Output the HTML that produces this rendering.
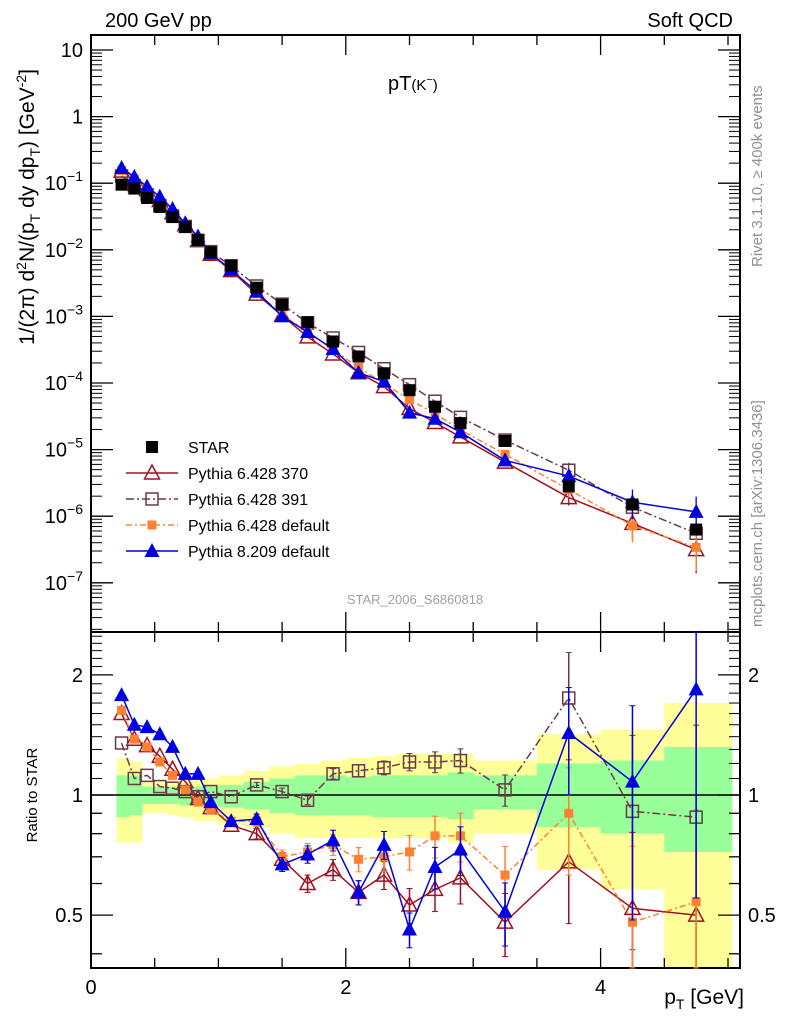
<!DOCTYPE html>
<html><head><meta charset="utf-8"><style>
body{margin:0;background:#fff;}
svg text{font-family:"Liberation Sans",sans-serif;}
</style></head><body>
<svg id="c" width="786" height="1024" xmlns="http://www.w3.org/2000/svg"></svg>
<script>
const pt=[0.24,0.34,0.44,0.54,0.64,0.74,0.84,0.94,1.1,1.3,1.5,1.7,1.9,2.1,2.3,2.5,2.7,2.9,3.25,3.75,4.25,4.75];
const binEdges=[0.2,0.3,0.4,0.5,0.6,0.7,0.8,0.9,1.0,1.2,1.4,1.6,1.8,2.0,2.2,2.4,2.6,2.8,3.0,3.5,4.0,4.5,5.03];
const star=[0.095,0.083,0.06,0.044,0.031,0.022,0.014,0.0092,0.0058,0.0027,0.0015,0.00082,0.00042,0.00025,0.00014,7.8e-5,4.4e-5,2.5e-5,1.35e-5,2.8e-6,1.5e-6,6.3e-7];
const r370=[1.60,1.38,1.33,1.25,1.16,1.08,0.98,0.93,0.84,0.80,0.69,0.60,0.65,0.57,0.63,0.53,0.58,0.62,0.48,0.68,0.52,0.50];
const r391=[1.35,1.10,1.12,1.05,1.04,1.02,0.99,1.02,0.99,1.06,1.02,0.97,1.13,1.15,1.17,1.21,1.21,1.22,1.03,1.75,0.91,0.88];
const rDef=[1.63,1.38,1.32,1.21,1.12,1.03,0.96,0.92,0.86,0.86,0.70,0.72,0.75,0.69,0.70,0.72,0.79,0.79,0.63,0.90,0.48,0.54];
const r8=[1.78,1.50,1.48,1.42,1.32,1.13,1.13,0.96,0.86,0.87,0.67,0.71,0.77,0.57,0.75,0.46,0.66,0.73,0.51,1.43,1.08,1.84];
const relErr=[0,0,0,0,0,0,0,0,0,0.03,0.04,0.05,0.06,0.07,0.08,0.1,0.12,0.14,0.18,0.3,0.55,0.7];
const yellowHi=[1.24,1.21,1.08,1.08,1.08,1.08,1.10,1.10,1.12,1.15,1.18,1.20,1.22,1.24,1.25,1.27,1.27,1.27,1.22,1.42,1.46,1.7];
const yellowLo=[0.76,0.76,0.90,0.90,0.89,0.88,0.86,0.86,0.84,0.83,0.80,0.78,0.78,0.78,0.78,0.78,0.78,0.76,0.80,0.65,0.58,0.37];
const greenHi=[1.12,1.12,1.05,1.05,1.05,1.05,1.05,1.05,1.06,1.08,1.10,1.12,1.12,1.11,1.12,1.12,1.12,1.14,1.12,1.2,1.22,1.32];
const greenLo=[0.88,0.89,0.95,0.95,0.95,0.94,0.94,0.94,0.93,0.92,0.90,0.89,0.89,0.89,0.88,0.88,0.88,0.87,0.92,0.83,0.80,0.72];
const mainTicks=["10","1","10","10","10","10","10","10","10"];
const mainExp=["","","−1","−2","−3","−4","−5","−6","−7"];

const svg=document.getElementById('c');
const NS='http://www.w3.org/2000/svg';
function el(t,a,p){const e=document.createElementNS(NS,t);for(const k in a)e.setAttribute(k,a[k]);(p||svg).appendChild(e);return e;}
const X0=91,X1=740,T=35,MB=632,RB=968;
const xs=v=>X0+v*127.4;
const ym=v=>50+(1-Math.log10(v))*66.6;
const yr=v=>795-Math.log10(v)*399;
const clipR=v=>Math.max(MB,Math.min(RB,v));

for(let i=0;i<yellowHi.length;i++){
  const b=el('rect',{x:xs(binEdges[i]),y:clipR(yr(yellowHi[i])),width:xs(binEdges[i+1])-xs(binEdges[i])+0.5,height:clipR(yr(yellowLo[i]))-clipR(yr(yellowHi[i])),fill:'#ffff99'});
  
  
}
for(let i=0;i<greenHi.length;i++){
  const b=el('rect',{x:xs(binEdges[i]),y:yr(greenHi[i]),width:xs(binEdges[i+1])-xs(binEdges[i])+0.5,height:yr(greenLo[i])-yr(greenHi[i]),fill:'#99ff99'});
  
  
}
el('line',{x1:X0,x2:X1,y1:yr(1),y2:yr(1),stroke:'#000','stroke-width':1.5});

el('rect',{x:X0,y:T,width:X1-X0,height:MB-T,fill:'none',stroke:'#000','stroke-width':2});
el('rect',{x:X0,y:MB,width:X1-X0,height:RB-MB,fill:'none',stroke:'#000','stroke-width':2});

for(let d=1;d>=-7;d--){
  const y=ym(Math.pow(10,d));
  el('line',{x1:X0,x2:X0+22,y1:y,y2:y,stroke:'#000','stroke-width':1.3});
  el('line',{x1:X1-22,x2:X1,y1:y,y2:y,stroke:'#000','stroke-width':1.3});
  const i=1-d;
  const t=el('text',{x:X0-8,y:y+7,'text-anchor':'end','font-size':20});
  
  
  t.textContent=mainTicks[i];
  if(mainExp[i]){const s=el('tspan',{'font-size':14,dy:-9},t);s.textContent=mainExp[i];}
}
for(let d=2;d>=-7;d--){for(let m=2;m<=9;m++){const y=ym(m*Math.pow(10,d-1));if(y<T||y>MB)continue;
  el('line',{x1:X0,x2:X0+11,y1:y,y2:y,stroke:'#000'});el('line',{x1:X1-11,x2:X1,y1:y,y2:y,stroke:'#000'});}}
for(let v=0;v<=5;v+=0.5){const x=xs(v);const L=(v%2===0)?20:10;
  [[T,T+L],[MB-L,MB],[MB,MB+L],[RB-L,RB]].forEach(p=>el('line',{x1:x,x2:x,y1:p[0],y2:p[1],stroke:'#000','stroke-width':1.3}));}
[0,2,4].forEach(v=>{const t=el('text',{x:xs(v),y:RB+26,'text-anchor':'middle','font-size':20});
  t.textContent=v;});
[0.4,0.5,0.6,0.7,0.8,0.9,1,2].forEach(v=>{const y=yr(v);const L=(v===0.5||v===1||v===2)?22:11;
  el('line',{x1:X0,x2:X0+L,y1:y,y2:y,stroke:'#000','stroke-width':1.3});el('line',{x1:X1-L,x2:X1,y1:y,y2:y,stroke:'#000','stroke-width':1.3});});
[1.1,1.2,1.3,1.4,1.5,1.6,1.7,1.8,1.9,2.1,2.2,2.3,2.4,2.5].forEach(v=>{const y=yr(v);
  el('line',{x1:X0,x2:X0+11,y1:y,y2:y,stroke:'#000'});el('line',{x1:X1-11,x2:X1,y1:y,y2:y,stroke:'#000'});});
[["2",2],["1",1],["0.5",0.5]].forEach(p=>{
  const a=el('text',{x:X0-8,y:yr(p[1])+7,'text-anchor':'end','font-size':20});a.textContent=p[0];
  const b=el('text',{x:X1+8,y:yr(p[1])+7,'font-size':20});b.textContent=p[0];});

function marker(kind,x,y,col,g){
  if(kind==='sq') el('rect',{x:x-6,y:y-6,width:12,height:12,fill:col},g);
  else if(kind==='osq') el('rect',{x:x-6,y:y-6,width:12,height:12,fill:'none',stroke:col,'stroke-width':1.5},g);
  else if(kind==='fsq') el('rect',{x:x-4.5,y:y-4.5,width:9,height:9,fill:col},g);
  else if(kind==='tri') el('polygon',{points:`${x},${y-8} ${x-7.5},${y+6} ${x+7.5},${y+6}`,fill:col},g);
  else if(kind==='otri') el('polygon',{points:`${x},${y-8} ${x-7.5},${y+6} ${x+7.5},${y+6}`,fill:'none',stroke:col,'stroke-width':1.5},g);
}
const series=[
 {name:'pythia-6428-370',r:r370,col:'#a01020',kind:'otri',dash:'',label:'Pythia 6.428 370',ef:1},
 {name:'pythia-6428-391',r:r391,col:'#6b3a4a',kind:'osq',dash:'8,3,2,3',label:'Pythia 6.428 391',ef:0.5},
 {name:'pythia-6428-default',r:rDef,col:'#ff8030',kind:'fsq',dash:'6,3,2,3',label:'Pythia 6.428 default',ef:1},
 {name:'pythia-8209-default',r:r8,col:'#0000e0',kind:'tri',dash:'',label:'Pythia 8.209 default',ef:1}];
series.forEach(s=>{
  const g=el('g',{});
  const gr=el('g',{});
  const pm=pt.map((p,i)=>xs(p)+','+ym(star[i]*s.r[i])).join(' ');
  el('polyline',{points:pm,fill:'none',stroke:s.col,'stroke-width':1.5,'stroke-dasharray':s.dash},g);
  const pr=pt.map((p,i)=>xs(p)+','+yr(s.r[i])).join(' ');
  el('polyline',{points:pr,fill:'none',stroke:s.col,'stroke-width':1.5,'stroke-dasharray':s.dash},gr);
  pt.forEach((p,i)=>{
    const x=xs(p),v=s.r[i],e=relErr[i]*(i>=19?1:s.ef);
    if(e>0){const y1=clipR(yr(v*(1+e))),y2=clipR(yr(Math.max(0.01,v*(1-e))));
      el('line',{x1:x,x2:x,y1:y1,y2:y2,stroke:s.col,'stroke-width':1.5},gr);
      el('line',{x1:x-3,x2:x+3,y1:y1,y2:y1,stroke:s.col},gr);el('line',{x1:x-3,x2:x+3,y1:y2,y2:y2,stroke:s.col},gr);
      const m1=ym(star[i]*v*(1+e)),m2=ym(star[i]*v*(1-e*0.8));
      if(i>=19){el('line',{x1:x,x2:x,y1:m1,y2:m2,stroke:s.col,'stroke-width':1.3},g);}
    }
    marker(s.kind,x,ym(star[i]*v),s.col,g);
    marker(s.kind,x,yr(v),s.col,gr);
  });
});
const gs=el('g',{});
pt.forEach((p,i)=>marker('sq',xs(p),ym(star[i]),'#000',gs));

const leg=[{k:'sq',c:'#000',l:'STAR',d:null},...series.map(s=>({k:s.kind,c:s.col,l:s.label,d:s.dash}))];
leg.forEach((L,i)=>{const y=447+i*26;
  const g=el('g',{});
  if(L.d!==null) el('line',{x1:126,x2:178,y1:y,y2:y,stroke:L.c,'stroke-width':1.5,'stroke-dasharray':L.d},g);
  marker(L.k,152,y,L.c,g);
  const t=el('text',{x:188,y:y+6,'font-size':16},g);t.textContent=L.l;});

function txt(x,y,s,attrs,name){const t=el('text',Object.assign({x:x,y:y},attrs));t.innerHTML=s;return t;}
txt(105,27,'200 GeV pp',{'font-size':20},'energy-label');
txt(733,27,'Soft QCD',{'font-size':20,'text-anchor':'end'},'category-label');
txt(388,90,'pT<tspan font-size="15">(K</tspan><tspan font-size="11" dy="-7">−</tspan><tspan font-size="15" dy="7">)</tspan>',{'font-size':20},'plot-title');
txt(415,604,'STAR_2006_S6860818',{'font-size':13,fill:'#a0a0a0','text-anchor':'middle'},'analysis-id');
txt(744,1004,'p<tspan font-size="14" dy="5">T</tspan><tspan dy="-5"> [GeV]</tspan>',{'font-size':21,'text-anchor':'end'},'x-axis-title');
txt(0,0,'Ratio to STAR',{'font-size':15,'text-anchor':'middle',transform:'translate(37,795) rotate(-90)'},'ratio-axis-title');
txt(0,0,'1/(2π) d<tspan font-size="14" dy="-8">2</tspan><tspan dy="8">N/(p</tspan><tspan font-size="14" dy="6">T</tspan><tspan dy="-6"> dy dp</tspan><tspan font-size="14" dy="6">T</tspan><tspan dy="-6">) [GeV</tspan><tspan font-size="14" dy="-8">-2</tspan><tspan dy="8">]</tspan>',{'font-size':21,transform:'translate(34,345) rotate(-90)'},'y-axis-title');
txt(0,0,'Rivet 3.1.10, ≥ 400k events',{'font-size':15,fill:'#909090',transform:'translate(762,267) rotate(-90)'},'rivet-label');
txt(0,0,'mcplots.cern.ch [arXiv:1306.3436]',{'font-size':15,fill:'#909090',transform:'translate(762,627) rotate(-90)'},'mcplots-label');
</script>
</body></html>
